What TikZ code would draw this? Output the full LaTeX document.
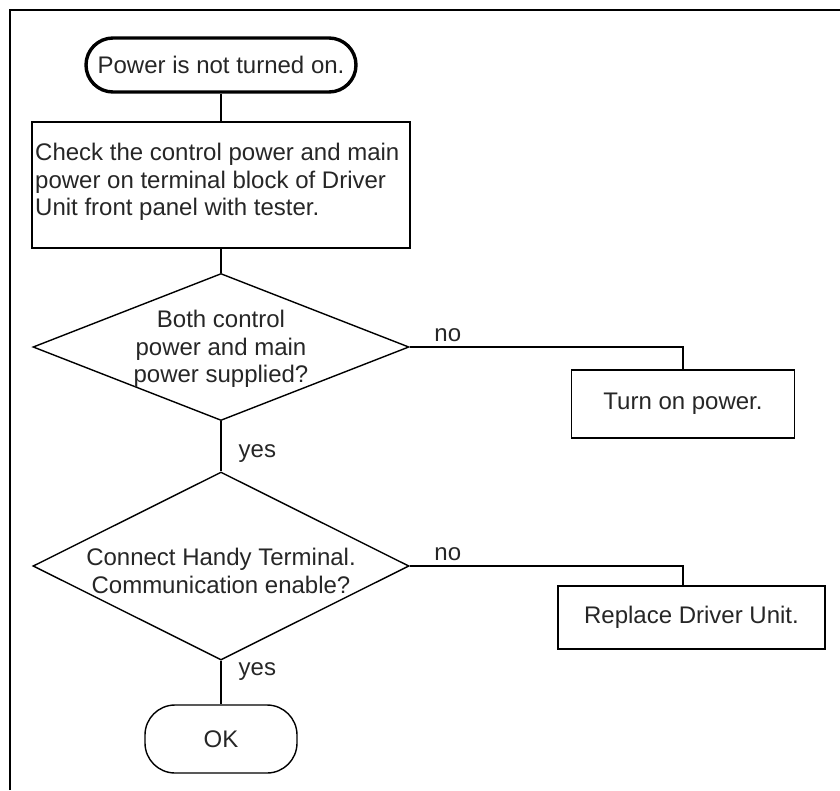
\documentclass[tikz,border=0pt]{standalone}
\usepackage{fontspec}
\setmainfont{Liberation Sans}
\usetikzlibrary{shapes.geometric}
\definecolor{textc}{HTML}{262626}
\newcommand\flowfont{\fontsize{24}{27.5}\selectfont}
\newcommand\flowfontwide{\fontsize{24}{28}\selectfont}
\begin{document}
\begin{tikzpicture}[x=1pt,y=-1pt,
  frameline/.style={line width=2.5pt, draw=black},
  conn/.style={line width=1.4pt, draw=black},
  txt/.style={font=\flowfont, text=textc, inner sep=0pt},
  lbl/.style={font=\flowfont, text=textc, inner sep=0pt},
  startbox/.style={draw, line width=3.4pt, rounded corners=27pt, inner sep=0pt,
    font=\flowfont, text=textc},
  endbox/.style={draw, line width=1.4pt, rounded corners=30pt, inner sep=0pt,
    font=\flowfont, text=textc},
  procbox/.style={draw, line width=1.4pt, inner sep=0pt, font=\flowfont, text=textc},
  decision/.style={draw, shape=diamond, line width=1.4pt, inner sep=0pt}
]
\useasboundingbox (0,0) rectangle (840,790);
\draw[frameline] (10,790) -- (10,10) -- (840,10);

\node[startbox, minimum width=270pt, minimum height=54pt] (start) at (221,65) {Power is not turned on.};

\node[procbox, minimum width=378pt, minimum height=126pt] (check) at (221,185) {};
\node[txt, anchor=west, align=left] (checktext) at (35,182)
  {Check the control power and main\\power on terminal block of Driver\\Unit front panel with tester.};

\node[decision, minimum width=376pt, minimum height=147pt] (d1) at (221,347) {};
\node[txt, align=center] (d1text) at (221,349) {Both control\\power and main\\power supplied?};

\node[procbox, minimum width=223pt, minimum height=68pt] (turn) at (683,404) {Turn on power.};

\node[decision, minimum width=376pt, minimum height=188pt] (d2) at (221,566) {};
\node[txt, align=center, font=\flowfontwide] (d2text) at (221,571) {Connect Handy Terminal.\\Communication enable?};

\node[procbox, minimum width=267pt, minimum height=63pt] (rep) at (691.5,617.5) {Replace Driver Unit.};

\node[endbox, minimum width=152pt, minimum height=68pt] (ok) at (221,739) {OK};

\draw[conn] (start) -- (check);
\draw[conn] (check) -- (d1);
\draw[conn] (d1.east) -| (turn.north)
  node[lbl, at start, anchor=south west, xshift=24pt, yshift=5pt] {no};
\draw[conn] (d1.south) -- node[lbl, pos=0.65, anchor=west, xshift=17pt] {yes} (d2.north);
\draw[conn] (d2.east) -| ([xshift=-8.5pt]rep.north)
  node[lbl, at start, anchor=south west, xshift=24pt, yshift=5pt] {no};
\draw[conn] (d2.south) -- node[lbl, pos=0.24, anchor=west, xshift=17pt] {yes} (ok.north);
\end{tikzpicture}
\end{document}
